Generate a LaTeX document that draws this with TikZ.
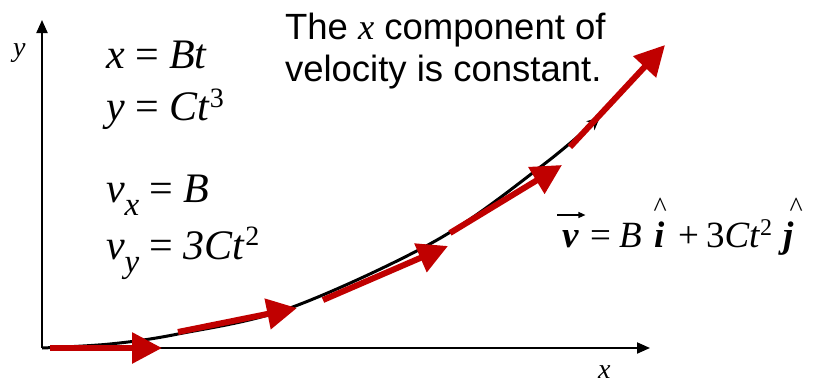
\documentclass[tikz,border=0pt]{standalone}
\usepackage{fontspec}
\setmainfont{Liberation Serif}
\newfontfamily\arialf{Liberation Sans}
\usetikzlibrary{arrows.meta}
\definecolor{vred}{HTML}{C00000}
\begin{document}
\begin{tikzpicture}[x=1pt,y=-1pt,
  txt/.style={inner sep=0pt, outer sep=0pt, anchor=base west},
  lmath/.style={txt, font=\fontsize{42}{44}\selectfont},
  rmath/.style={txt, font=\fontsize{37}{38}\selectfont},
  bfit/.style={rmath, font=\fontsize{37}{38}\selectfont\bfseries\itshape},
  hat/.style={inner sep=0pt, outer sep=0pt, anchor=north, font=\fontsize{28}{28}\selectfont},
  note/.style={txt, font=\arialf\fontsize{36.5}{42}\selectfont},
  axlab/.style={txt, font=\fontsize{28}{28}\selectfont\itshape},
  axis/.style={line width=2pt, -{Triangle[length=13pt,width=11pt]}},
  vel/.style={vred, line width=6pt, -{Triangle[length=30pt,width=30pt]}},
  path/.style={line width=3pt, -{Stealth[length=13pt,width=12pt,inset=4pt]}}]
\useasboundingbox (0,0) rectangle (814,383);
% axes
\coordinate (O) at (42,348);
\coordinate (ytip) at (42,20);
\coordinate (xtip) at (650,348);
\draw[axis] (O) -- (ytip);
\draw[axis] (O) -- (xtip);
\node[axlab] (ylab) at (13,56) {y};
\node[axlab] (xlab) at (598,378) {x};
% trajectory
\draw[path] plot[smooth, tension=0.55] coordinates {(42,348) (110,344) (178,334) (290,308) (437,240) (543,165) (600,117)};
% velocity vectors
\coordinate (a1s) at (50,348);  \coordinate (a1e) at (162,348);
\coordinate (a2s) at (178,332); \coordinate (a2e) at (297,308);
\coordinate (a3s) at (323,300); \coordinate (a3e) at (448,246);
\coordinate (a4s) at (450,233); \coordinate (a4e) at (562,165);
\coordinate (a5s) at (570,147); \coordinate (a5e) at (665,45);
\draw[vel] (a1s) -- (a1e);
\draw[vel] (a2s) -- (a2e);
\draw[vel] (a3s) -- (a3e);
\draw[vel] (a4s) -- (a4e);
\draw[vel] (a5s) -- (a5e);
% equations left
\node[lmath] (e1) at (106,68) {\textit{x} = \textit{Bt}};
\node[lmath] (e2) at (106,120) {\textit{y} = \textit{Ct}\raisebox{13pt}{\fontsize{28}{28}\selectfont 3}};
\node[lmath] (e3) at (106,202) {\textit{v}\raisebox{-13pt}{\fontsize{33}{33}\selectfont\itshape x} = \textit{B}};
\node[lmath] (e4) at (106,259) {\textit{v}\raisebox{-13pt}{\fontsize{33}{33}\selectfont\itshape y} = \textit{3Ct}\raisebox{14pt}{\fontsize{28}{28}\selectfont 2}};
% note
\node[note] (n1) at (285,39) {The {\rmfamily\itshape x} component of};
\node[note] (n2) at (285,81) {velocity is constant.};
% vector equation
\node[bfit] (vv) at (562,247) {v};
\draw[line width=1.3pt, -{Triangle[length=7pt,width=6pt]}] ([xshift=-5pt,yshift=15pt]vv.north west) -- ([xshift=7pt,yshift=15pt]vv.north east);
\node[rmath] (eq) at (590,247) {=};
\node[rmath] (bb) at (619,247) {\textit{B}};
\node[bfit] (ii) at (654,247) {i};
\node[rmath] (pl) at (678,247) {+};
\node[rmath] (ct) at (706,247) {3\textit{Ct}\raisebox{12pt}{\fontsize{24}{24}\selectfont 2}};
\node[bfit] (jj) at (783,247) {j};
\node[hat] (hi) at ([xshift=1pt,yshift=23pt]ii.north) {\textasciicircum};
\node[hat] (hj) at ([xshift=8pt,yshift=23pt]jj.north) {\textasciicircum};
\end{tikzpicture}
\end{document}
